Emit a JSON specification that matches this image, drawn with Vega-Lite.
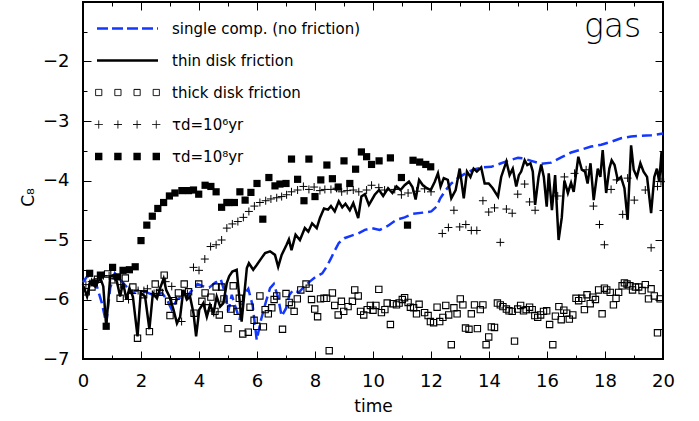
{
  "$schema": "https://vega.github.io/schema/vega-lite/v6.json",
  "width": 580,
  "height": 357,
  "padding": {"left": 83, "top": 2, "right": 36, "bottom": 62},
  "autosize": {"type": "none"},
  "config": {
    "view": {"stroke": "black", "strokeWidth": 2},
    "font": "DejaVu Sans",
    "axis": {"labelFont": "DejaVu Sans", "titleFont": "DejaVu Sans", "labelColor": "black", "titleColor": "black", "tickColor": "black", "tickWidth": 1, "grid": false, "domain": false, "titleFontWeight": "normal", "labelFlush": false},
    "legend": {"labelFont": "DejaVu Sans"}
  },
  "datasets": {
    "single": [
      {"t":0,"c":-5.71},{"t":0.16,"c":-5.6},{"t":0.32,"c":-5.65},{"t":0.48,"c":-5.78},{"t":0.65,"c":-6.06},{"t":0.8,"c":-6.4},{"t":0.94,"c":-5.8},{"t":1.1,"c":-5.56},{"t":1.28,"c":-5.67},{"t":1.49,"c":-5.78},{"t":1.69,"c":-5.89},{"t":1.91,"c":-5.84},{"t":2.2,"c":-5.88},{"t":2.49,"c":-5.94},{"t":2.72,"c":-5.89},{"t":2.89,"c":-6.0},{"t":3.06,"c":-6.17},{"t":3.24,"c":-6.0},{"t":3.41,"c":-5.95},{"t":3.58,"c":-5.95},{"t":3.75,"c":-5.85},{"t":3.95,"c":-5.74},{"t":4.15,"c":-5.78},{"t":4.35,"c":-5.8},{"t":4.55,"c":-5.72},{"t":4.75,"c":-5.66},{"t":4.9,"c":-5.9},{"t":5.01,"c":-6.2},{"t":5.13,"c":-5.92},{"t":5.24,"c":-6.1},{"t":5.4,"c":-6.34},{"t":5.55,"c":-5.92},{"t":5.7,"c":-5.82},{"t":5.85,"c":-6.1},{"t":5.99,"c":-6.68},{"t":6.14,"c":-6.34},{"t":6.3,"c":-6.05},{"t":6.45,"c":-5.81},{"t":6.58,"c":-5.74},{"t":6.72,"c":-5.95},{"t":6.85,"c":-6.28},{"t":7.0,"c":-6.15},{"t":7.12,"c":-5.92},{"t":7.25,"c":-5.84},{"t":7.45,"c":-5.88},{"t":7.63,"c":-5.78},{"t":7.82,"c":-5.7},{"t":8.02,"c":-5.62},{"t":8.25,"c":-5.56},{"t":8.4,"c":-5.45},{"t":8.55,"c":-5.31},{"t":8.69,"c":-5.17},{"t":8.82,"c":-5.05},{"t":9.01,"c":-4.97},{"t":9.24,"c":-4.93},{"t":9.49,"c":-4.89},{"t":9.72,"c":-4.83},{"t":9.95,"c":-4.8},{"t":10.23,"c":-4.83},{"t":10.52,"c":-4.76},{"t":10.81,"c":-4.66},{"t":11.09,"c":-4.62},{"t":11.38,"c":-4.56},{"t":11.72,"c":-4.54},{"t":12.01,"c":-4.52},{"t":12.19,"c":-4.44},{"t":12.32,"c":-4.3},{"t":12.51,"c":-4.16},{"t":12.7,"c":-4.05},{"t":12.93,"c":-3.96},{"t":13.16,"c":-3.89},{"t":13.45,"c":-3.82},{"t":13.79,"c":-3.78},{"t":14.08,"c":-3.77},{"t":14.42,"c":-3.71},{"t":14.71,"c":-3.66},{"t":15.0,"c":-3.62},{"t":15.2,"c":-3.63},{"t":15.46,"c":-3.67},{"t":15.8,"c":-3.72},{"t":16.14,"c":-3.7},{"t":16.49,"c":-3.61},{"t":16.83,"c":-3.53},{"t":17.18,"c":-3.48},{"t":17.52,"c":-3.43},{"t":17.87,"c":-3.4},{"t":18.21,"c":-3.35},{"t":18.55,"c":-3.29},{"t":18.9,"c":-3.26},{"t":19.24,"c":-3.25},{"t":19.59,"c":-3.24},{"t":20,"c":-3.21}
    ],
    "thin": [
      {"t":0.02,"c":-5.78},{"t":0.14,"c":-5.95},{"t":0.25,"c":-5.7},{"t":0.42,"c":-5.78},{"t":0.6,"c":-5.64},{"t":0.7,"c":-5.78},{"t":0.8,"c":-6.45},{"t":0.94,"c":-5.61},{"t":1.05,"c":-5.59},{"t":1.17,"c":-5.7},{"t":1.28,"c":-5.95},{"t":1.38,"c":-5.72},{"t":1.5,"c":-6.0},{"t":1.6,"c":-5.81},{"t":1.72,"c":-5.95},{"t":1.88,"c":-6.62},{"t":1.99,"c":-5.89},{"t":2.14,"c":-5.95},{"t":2.29,"c":-6.5},{"t":2.41,"c":-5.89},{"t":2.55,"c":-5.98},{"t":2.66,"c":-5.81},{"t":2.78,"c":-5.65},{"t":2.87,"c":-5.84},{"t":2.98,"c":-5.95},{"t":3.12,"c":-6.17},{"t":3.24,"c":-6.4},{"t":3.35,"c":-6.29},{"t":3.46,"c":-5.84},{"t":3.58,"c":-6.0},{"t":3.69,"c":-5.95},{"t":3.81,"c":-6.23},{"t":3.9,"c":-6.62},{"t":4.01,"c":-6.17},{"t":4.15,"c":-6.06},{"t":4.27,"c":-6.29},{"t":4.38,"c":-6.09},{"t":4.5,"c":-6.23},{"t":4.61,"c":-5.95},{"t":4.73,"c":-6.12},{"t":4.84,"c":-6.06},{"t":4.96,"c":-5.72},{"t":5.04,"c":-5.61},{"t":5.15,"c":-5.53},{"t":5.3,"c":-5.5},{"t":5.47,"c":-6.37},{"t":5.65,"c":-5.47},{"t":5.72,"c":-5.39},{"t":5.87,"c":-5.5},{"t":5.99,"c":-5.42},{"t":6.16,"c":-5.3},{"t":6.28,"c":-5.22},{"t":6.45,"c":-5.19},{"t":6.62,"c":-5.25},{"t":6.73,"c":-5.45},{"t":6.85,"c":-5.25},{"t":7.02,"c":-5.08},{"t":7.1,"c":-4.99},{"t":7.19,"c":-5.17},{"t":7.33,"c":-4.91},{"t":7.48,"c":-5.0},{"t":7.65,"c":-4.8},{"t":7.77,"c":-4.86},{"t":7.9,"c":-4.72},{"t":8.06,"c":-4.8},{"t":8.17,"c":-4.63},{"t":8.31,"c":-4.47},{"t":8.45,"c":-4.49},{"t":8.55,"c":-4.43},{"t":8.68,"c":-4.52},{"t":8.82,"c":-4.35},{"t":8.94,"c":-4.45},{"t":9.05,"c":-4.39},{"t":9.2,"c":-4.5},{"t":9.32,"c":-4.38},{"t":9.49,"c":-4.63},{"t":9.6,"c":-4.27},{"t":9.72,"c":-4.23},{"t":9.86,"c":-4.41},{"t":10.06,"c":-4.24},{"t":10.21,"c":-4.16},{"t":10.35,"c":-4.26},{"t":10.52,"c":-4.13},{"t":10.67,"c":-4.21},{"t":10.81,"c":-4.1},{"t":10.95,"c":-4.16},{"t":11.09,"c":-4.08},{"t":11.24,"c":-4.02},{"t":11.36,"c":-4.11},{"t":11.47,"c":-4.32},{"t":11.59,"c":-3.99},{"t":11.72,"c":-4.08},{"t":11.86,"c":-4.13},{"t":11.99,"c":-4.16},{"t":12.13,"c":-4.02},{"t":12.24,"c":-3.88},{"t":12.33,"c":-4.1},{"t":12.44,"c":-3.96},{"t":12.58,"c":-3.99},{"t":12.7,"c":-4.3},{"t":12.85,"c":-4.16},{"t":12.99,"c":-3.8},{"t":13.13,"c":-4.3},{"t":13.24,"c":-3.85},{"t":13.36,"c":-3.94},{"t":13.47,"c":-3.8},{"t":13.58,"c":-3.85},{"t":13.73,"c":-3.78},{"t":13.85,"c":-4.05},{"t":13.99,"c":-4.05},{"t":14.13,"c":-4.13},{"t":14.31,"c":-4.27},{"t":14.42,"c":-3.94},{"t":14.6,"c":-3.68},{"t":14.71,"c":-3.91},{"t":14.82,"c":-3.8},{"t":14.94,"c":-4.1},{"t":15.03,"c":-3.91},{"t":15.11,"c":-3.85},{"t":15.23,"c":-3.66},{"t":15.32,"c":-3.74},{"t":15.43,"c":-3.71},{"t":15.51,"c":-3.85},{"t":15.59,"c":-4.41},{"t":15.71,"c":-3.94},{"t":15.8,"c":-3.73},{"t":15.89,"c":-3.94},{"t":15.99,"c":-4.44},{"t":16.06,"c":-3.88},{"t":16.17,"c":-4.5},{"t":16.28,"c":-3.91},{"t":16.4,"c":-5.0},{"t":16.51,"c":-4.62},{"t":16.6,"c":-4.0},{"t":16.72,"c":-4.21},{"t":16.83,"c":-4.04},{"t":16.92,"c":-4.19},{"t":17.08,"c":-3.6},{"t":17.2,"c":-3.82},{"t":17.31,"c":-3.85},{"t":17.4,"c":-4.05},{"t":17.5,"c":-3.71},{"t":17.61,"c":-4.33},{"t":17.75,"c":-3.8},{"t":17.84,"c":-3.94},{"t":17.92,"c":-3.49},{"t":18.04,"c":-4.21},{"t":18.15,"c":-3.8},{"t":18.23,"c":-3.66},{"t":18.33,"c":-3.74},{"t":18.44,"c":-3.99},{"t":18.55,"c":-3.94},{"t":18.67,"c":-4.13},{"t":18.78,"c":-4.66},{"t":18.9,"c":-3.41},{"t":18.99,"c":-3.82},{"t":19.1,"c":-3.94},{"t":19.22,"c":-3.71},{"t":19.33,"c":-3.85},{"t":19.45,"c":-3.94},{"t":19.59,"c":-4.55},{"t":19.7,"c":-3.94},{"t":19.79,"c":-3.8},{"t":19.87,"c":-4.02},{"t":19.95,"c":-3.52},{"t":20,"c":-4.02}
    ],
    "thick": [
      {"t":0.11,"c":-5.87},{"t":0.31,"c":-5.79},{"t":0.5,"c":-5.66},{"t":0.85,"c":-5.57},{"t":1.05,"c":-5.67},{"t":1.28,"c":-5.98},{"t":1.46,"c":-5.64},{"t":1.72,"c":-5.79},{"t":1.88,"c":-6.65},{"t":2.09,"c":-5.92},{"t":2.29,"c":-6.54},{"t":2.49,"c":-5.74},{"t":2.64,"c":-5.88},{"t":2.8,"c":-5.59},{"t":2.95,"c":-6.03},{"t":3.0,"c":-6.27},{"t":3.12,"c":-6.02},{"t":3.29,"c":-5.89},{"t":3.49,"c":-5.74},{"t":3.64,"c":-5.87},{"t":3.83,"c":-6.23},{"t":3.99,"c":-5.74},{"t":4.1,"c":-6.03},{"t":4.21,"c":-5.89},{"t":4.32,"c":-6.14},{"t":4.41,"c":-5.96},{"t":4.55,"c":-6.2},{"t":4.59,"c":-5.79},{"t":4.7,"c":-6.26},{"t":4.78,"c":-5.79},{"t":4.86,"c":-5.99},{"t":5.0,"c":-6.49},{"t":5.09,"c":-6.16},{"t":5.18,"c":-5.77},{"t":5.32,"c":-6.2},{"t":5.39,"c":-5.98},{"t":5.51,"c":-6.58},{"t":5.7,"c":-6.55},{"t":5.76,"c":-6.13},{"t":5.9,"c":-6.35},{"t":5.99,"c":-6.45},{"t":6.1,"c":-5.94},{"t":6.22,"c":-6.46},{"t":6.28,"c":-6.17},{"t":6.39,"c":-6.24},{"t":6.51,"c":-6.14},{"t":6.59,"c":-6.0},{"t":6.68,"c":-5.94},{"t":6.88,"c":-6.5},{"t":7.0,"c":-5.9},{"t":7.11,"c":-6.05},{"t":7.19,"c":-6.09},{"t":7.28,"c":-6.2},{"t":7.39,"c":-5.99},{"t":7.51,"c":-5.84},{"t":7.69,"c":-5.74},{"t":7.8,"c":-5.81},{"t":7.88,"c":-6.0},{"t":7.99,"c":-6.16},{"t":8.09,"c":-6.29},{"t":8.19,"c":-5.99},{"t":8.31,"c":-5.98},{"t":8.4,"c":-5.98},{"t":8.49,"c":-6.86},{"t":8.6,"c":-5.89},{"t":8.68,"c":-6.1},{"t":8.8,"c":-6.26},{"t":8.91,"c":-6.03},{"t":8.99,"c":-6.2},{"t":9.14,"c":-6.12},{"t":9.29,"c":-6.03},{"t":9.37,"c":-5.84},{"t":9.49,"c":-5.94},{"t":9.57,"c":-6.2},{"t":9.68,"c":-6.26},{"t":9.8,"c":-6.17},{"t":9.91,"c":-6.1},{"t":10.0,"c":-6.18},{"t":10.1,"c":-6.1},{"t":10.2,"c":-5.83},{"t":10.29,"c":-6.22},{"t":10.41,"c":-6.17},{"t":10.49,"c":-6.06},{"t":10.6,"c":-6.42},{"t":10.69,"c":-6.07},{"t":10.81,"c":-6.09},{"t":10.9,"c":-6.06},{"t":11.01,"c":-6.0},{"t":11.09,"c":-5.97},{"t":11.21,"c":-6.05},{"t":11.29,"c":-6.13},{"t":11.4,"c":-6.14},{"t":11.5,"c":-6.24},{"t":11.59,"c":-6.08},{"t":11.78,"c":-6.22},{"t":11.9,"c":-6.27},{"t":11.98,"c":-6.37},{"t":12.09,"c":-6.39},{"t":12.21,"c":-6.13},{"t":12.3,"c":-6.37},{"t":12.41,"c":-6.3},{"t":12.51,"c":-6.1},{"t":12.61,"c":-6.26},{"t":12.7,"c":-6.76},{"t":12.79,"c":-6.14},{"t":12.9,"c":-6.24},{"t":13.01,"c":-5.99},{"t":13.1,"c":-6.09},{"t":13.19,"c":-6.48},{"t":13.31,"c":-6.5},{"t":13.39,"c":-6.24},{"t":13.5,"c":-6.09},{"t":13.6,"c":-6.49},{"t":13.7,"c":-6.17},{"t":13.79,"c":-6.09},{"t":13.9,"c":-6.76},{"t":13.99,"c":-6.63},{"t":14.08,"c":-6.46},{"t":14.19,"c":-6.47},{"t":14.29,"c":-6.06},{"t":14.39,"c":-6.09},{"t":14.48,"c":-6.12},{"t":14.6,"c":-6.16},{"t":14.69,"c":-6.19},{"t":14.8,"c":-6.2},{"t":14.88,"c":-6.7},{"t":14.99,"c":-6.16},{"t":15.09,"c":-6.1},{"t":15.19,"c":-6.19},{"t":15.28,"c":-6.17},{"t":15.4,"c":-6.13},{"t":15.49,"c":-6.17},{"t":15.58,"c":-6.27},{"t":15.68,"c":-6.3},{"t":15.78,"c":-6.26},{"t":15.88,"c":-6.2},{"t":15.99,"c":-6.19},{"t":16.09,"c":-6.42},{"t":16.2,"c":-6.76},{"t":16.29,"c":-6.28},{"t":16.41,"c":-6.12},{"t":16.49,"c":-6.34},{"t":16.58,"c":-6.18},{"t":16.68,"c":-6.23},{"t":16.77,"c":-6.33},{"t":16.89,"c":-6.26},{"t":17.0,"c":-5.98},{"t":17.09,"c":-6.02},{"t":17.2,"c":-5.98},{"t":17.29,"c":-6.17},{"t":17.38,"c":-5.92},{"t":17.49,"c":-6.07},{"t":17.58,"c":-5.96},{"t":17.67,"c":-6.0},{"t":17.78,"c":-5.84},{"t":17.9,"c":-6.24},{"t":17.98,"c":-5.81},{"t":18.06,"c":-5.84},{"t":18.18,"c":-5.88},{"t":18.29,"c":-6.09},{"t":18.38,"c":-5.98},{"t":18.47,"c":-5.88},{"t":18.59,"c":-5.77},{"t":18.67,"c":-5.72},{"t":18.76,"c":-5.74},{"t":18.86,"c":-5.77},{"t":18.95,"c":-5.84},{"t":19.05,"c":-5.79},{"t":19.16,"c":-5.79},{"t":19.28,"c":-5.85},{"t":19.39,"c":-5.75},{"t":19.5,"c":-5.99},{"t":19.59,"c":-5.82},{"t":19.7,"c":-5.94},{"t":19.81,"c":-6.56},{"t":19.9,"c":-5.99}
    ],
    "plus6": [
      {"t":0.1,"c":-5.75},{"t":0.3,"c":-5.7},{"t":0.5,"c":-5.65},{"t":0.7,"c":-5.6},{"t":0.9,"c":-5.6},{"t":1.1,"c":-5.65},{"t":1.3,"c":-5.75},{"t":1.57,"c":-6.0},{"t":1.7,"c":-5.9},{"t":1.9,"c":-5.85},{"t":2.1,"c":-5.85},{"t":2.22,"c":-5.82},{"t":2.45,"c":-5.9},{"t":2.65,"c":-5.85},{"t":2.85,"c":-5.7},{"t":3.06,"c":-5.78},{"t":3.2,"c":-6.0},{"t":3.4,"c":-6.37},{"t":3.6,"c":-5.9},{"t":3.81,"c":-5.46},{"t":4.0,"c":-5.51},{"t":4.2,"c":-5.32},{"t":4.4,"c":-5.11},{"t":4.59,"c":-5.08},{"t":4.78,"c":-5.0},{"t":4.96,"c":-4.8},{"t":5.15,"c":-4.73},{"t":5.34,"c":-4.69},{"t":5.53,"c":-4.62},{"t":5.72,"c":-4.52},{"t":5.91,"c":-4.43},{"t":6.1,"c":-4.37},{"t":6.3,"c":-4.34},{"t":6.48,"c":-4.31},{"t":6.68,"c":-4.29},{"t":6.85,"c":-4.27},{"t":7.02,"c":-4.24},{"t":7.19,"c":-4.19},{"t":7.4,"c":-4.16},{"t":7.6,"c":-4.1},{"t":7.79,"c":-4.15},{"t":7.97,"c":-4.11},{"t":8.17,"c":-4.17},{"t":8.34,"c":-4.15},{"t":8.55,"c":-4.15},{"t":8.74,"c":-4.13},{"t":8.92,"c":-4.19},{"t":9.11,"c":-4.17},{"t":9.32,"c":-4.16},{"t":9.51,"c":-4.19},{"t":9.78,"c":-4.16},{"t":9.95,"c":-4.08},{"t":10.2,"c":-4.12},{"t":10.4,"c":-4.16},{"t":10.75,"c":-4.15},{"t":10.98,"c":-4.24},{"t":11.21,"c":-4.21},{"t":11.5,"c":-4.18},{"t":11.78,"c":-4.14},{"t":12.0,"c":-4.19},{"t":12.39,"c":-4.89},{"t":12.6,"c":-4.79},{"t":12.79,"c":-4.5},{"t":12.99,"c":-4.78},{"t":13.2,"c":-4.74},{"t":13.39,"c":-4.84},{"t":13.58,"c":-4.84},{"t":13.79,"c":-4.34},{"t":13.99,"c":-4.53},{"t":14.19,"c":-4.46},{"t":14.39,"c":-5.04},{"t":14.6,"c":-4.48},{"t":14.8,"c":-4.55},{"t":14.99,"c":-4.23},{"t":15.23,"c":-4.06},{"t":15.4,"c":-4.36},{"t":15.59,"c":-4.5},{"t":16.37,"c":-4.26},{"t":16.6,"c":-3.94},{"t":16.95,"c":-3.88},{"t":17.35,"c":-3.82},{"t":17.6,"c":-4.43},{"t":17.81,"c":-4.74},{"t":17.98,"c":-5.08},{"t":18.21,"c":-4.15},{"t":18.4,"c":-3.99},{"t":18.61,"c":-4.57},{"t":18.78,"c":-3.96},{"t":19.01,"c":-4.33},{"t":19.39,"c":-4.16},{"t":19.59,"c":-5.13},{"t":19.81,"c":-4.1},{"t":19.93,"c":-4.02}
    ],
    "sq8": [
      {"t":0.23,"c":-5.56},{"t":0.39,"c":-5.72},{"t":0.6,"c":-5.59},{"t":0.8,"c":-6.45},{"t":1.02,"c":-5.46},{"t":1.2,"c":-5.62},{"t":1.38,"c":-5.51},{"t":1.6,"c":-5.5},{"t":1.8,"c":-5.45},{"t":2.0,"c":-5.01},{"t":2.2,"c":-4.75},{"t":2.39,"c":-4.6},{"t":2.58,"c":-4.47},{"t":2.78,"c":-4.37},{"t":2.98,"c":-4.26},{"t":3.17,"c":-4.21},{"t":3.41,"c":-4.17},{"t":3.64,"c":-4.17},{"t":3.81,"c":-4.16},{"t":3.99,"c":-4.23},{"t":4.21,"c":-4.08},{"t":4.41,"c":-4.1},{"t":4.59,"c":-4.19},{"t":4.78,"c":-4.45},{"t":4.96,"c":-4.37},{"t":5.04,"c":-4.37},{"t":5.22,"c":-4.37},{"t":5.41,"c":-4.19},{"t":5.59,"c":-4.33},{"t":5.79,"c":-4.2},{"t":6.0,"c":-4.05},{"t":6.2,"c":-4.65},{"t":6.41,"c":-3.95},{"t":6.62,"c":-4.09},{"t":6.79,"c":-4.06},{"t":7.0,"c":-4.05},{"t":7.19,"c":-3.64},{"t":7.4,"c":-3.98},{"t":7.62,"c":-4.34},{"t":7.79,"c":-3.64},{"t":8.0,"c":-4.27},{"t":8.2,"c":-3.99},{"t":8.41,"c":-3.74},{"t":8.6,"c":-3.97},{"t":8.8,"c":-4.11},{"t":9.0,"c":-3.67},{"t":9.2,"c":-4.05},{"t":9.4,"c":-3.81},{"t":9.6,"c":-3.52},{"t":9.78,"c":-3.6},{"t":9.95,"c":-3.73},{"t":10.21,"c":-3.67},{"t":10.6,"c":-3.62},{"t":10.98,"c":-3.95},{"t":11.19,"c":-4.75},{"t":11.38,"c":-3.66},{"t":11.61,"c":-3.69},{"t":11.82,"c":-3.73},{"t":11.99,"c":-3.77}
    ]
  },
  "layer": [
    {
      "data": {"name": "single"},
      "mark": {"type": "line", "strokeWidth": 2.5, "strokeDash": [10, 5]},
      "encoding": {
        "x": {"field": "t", "type": "quantitative", "scale": {"domain": [0, 20], "nice": false, "zero": false}, "axis": {"orient": "bottom", "values": [0,2,4,6,8,10,12,14,16,18,20], "tickSize": -8, "labelPadding": 21, "labelFontSize": 18, "title": "time", "titleFontSize": 17, "titlePadding": 8}},
        "y": {"field": "c", "type": "quantitative", "scale": {"domain": [-7, -1], "nice": false, "zero": false}, "axis": {"orient": "left", "values": [-7,-6,-5,-4,-3,-2], "tickSize": -8, "labelPadding": 22, "labelFontSize": 18, "title": "C₈", "titleFontSize": 17, "titlePadding": 5, "titleY": 195}},
        "color": {
          "datum": "single comp. (no friction)",
          "type": "nominal",
          "scale": {"domain": ["single comp. (no friction)", "thin disk friction", "thick disk friction", "τd=10⁶yr", "τd=10⁸yr"], "range": ["#1437ff", "black", "black", "black", "black"]},
          "legend": {
            "orient": "none", "legendX": 37, "legendY": 19, "title": null, "padding": 0,
            "labelFontSize": 15, "labelColor": "black", "labelOffset": 37, "labelLimit": 400, "symbolSize": 100,
            "rowPadding": 16, "symbolStrokeWidth": 1,
            "encode": {"symbols": {"update": {
              "shape": {"signal": "['M-6.1,0H6.1','M-6.1,0H6.1','M-6.38,-0.62h1.24v1.24h-1.24zM-2.54,-0.62h1.24v1.24h-1.24zM1.3,-0.62h1.24v1.24h-1.24zM5.14,-0.62h1.24v1.24h-1.24z','M-6.56,0h1.6M-5.76,-0.8v1.6M-2.72,0h1.6M-1.92,-0.8v1.6M1.12,0h1.6M1.92,-0.8v1.6M4.96,0h1.6M5.76,-0.8v1.6','M-6.5,-0.74h1.48v1.48h-1.48zM-2.66,-0.74h1.48v1.48h-1.48zM1.18,-0.74h1.48v1.48h-1.48zM5.02,-0.74h1.48v1.48h-1.48z'][datum.index]"},
              "stroke": {"signal": "datum.index === 0 ? '#1437ff' : 'black'"},
              "fill": {"signal": "datum.index === 4 ? 'black' : 'transparent'"},
              "fillOpacity": {"signal": "datum.index === 4 ? 1 : 0"},
              "strokeWidth": {"signal": "datum.index < 2 ? 2.5 : (datum.index === 4 ? 0 : 1)"},
              "strokeDash": {"signal": "datum.index === 0 ? [11, 4] : [1, 0]"},
              "opacity": {"value": 1}
            }}}
          }
        }
      }
    },
    {
      "data": {"name": "thin"},
      "mark": {"type": "line", "strokeWidth": 2.5, "color": "black"},
      "encoding": {
        "x": {"field": "t", "type": "quantitative", "axis": {"orient": "top", "values": [0,2,4,6,8,10,12,14,16,18,20], "tickSize": -8, "labels": false, "title": null}},
        "y": {"field": "c", "type": "quantitative", "axis": {"orient": "right", "values": [-7,-6,-5,-4,-3,-2], "tickSize": -8, "labels": false, "title": null}}
      }
    },
    {
      "data": {"name": "thick"},
      "mark": {"type": "point", "shape": "square", "filled": false, "size": 40, "strokeWidth": 1.1, "opacity": 1, "color": "black"},
      "encoding": {
        "x": {"field": "t", "type": "quantitative", "axis": {"orient": "bottom", "values": [1,3,5,7,9,11,13,15,17,19], "tickSize": -4, "labels": false, "title": null}},
        "y": {"field": "c", "type": "quantitative", "axis": {"orient": "left", "values": [-6.5,-5.5,-4.5,-3.5,-2.5,-1.5], "tickSize": -4, "labels": false, "title": null}}
      }
    },
    {
      "data": {"name": "plus6"},
      "mark": {"type": "point", "shape": "M-1,0H1M0,-1V1", "filled": false, "size": 64, "strokeWidth": 1, "opacity": 1, "color": "black"},
      "encoding": {
        "x": {"field": "t", "type": "quantitative", "axis": {"orient": "top", "values": [1,3,5,7,9,11,13,15,17,19], "tickSize": -4, "labels": false, "title": null}},
        "y": {"field": "c", "type": "quantitative", "axis": {"orient": "right", "values": [-6.5,-5.5,-4.5,-3.5,-2.5,-1.5], "tickSize": -4, "labels": false, "title": null}}
      }
    },
    {
      "data": {"name": "sq8"},
      "mark": {"type": "point", "shape": "square", "filled": true, "size": 52, "opacity": 1, "color": "black"},
      "encoding": {
        "x": {"field": "t", "type": "quantitative", "axis": null},
        "y": {"field": "c", "type": "quantitative", "axis": null}
      }
    },
    {
      "data": {"values": [{"label": "gas"}]},
      "mark": {"type": "text", "align": "right", "baseline": "alphabetic", "fontSize": 33, "fontWeight": 200, "font": "DejaVu Sans", "fill": "black"},
      "encoding": {
        "x": {"datum": 19.25, "type": "quantitative", "axis": null},
        "y": {"datum": -1.59, "type": "quantitative", "axis": null},
        "text": {"field": "label", "type": "nominal"}
      }
    }
  ],
  "resolve": {"axis": {"x": "independent", "y": "independent"}}
}
